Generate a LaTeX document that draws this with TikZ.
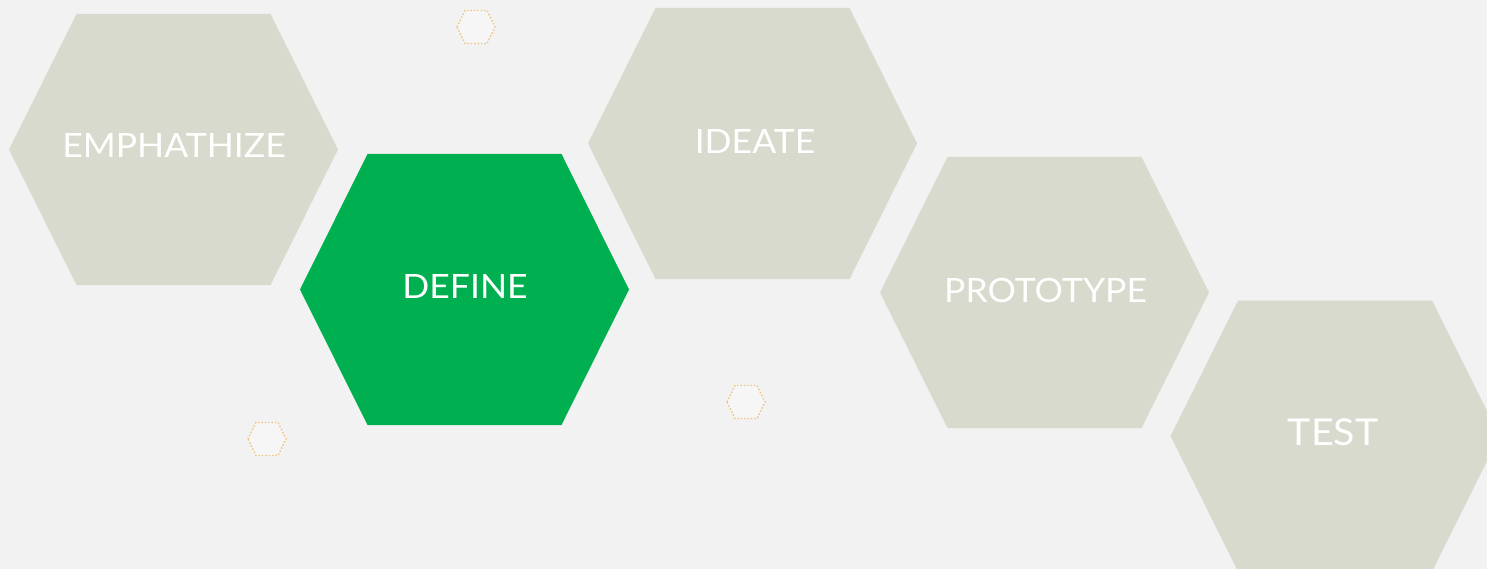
\documentclass[tikz,border=0pt]{standalone}
\usepackage{fontspec}
\setmainfont[FakeStretch=1.06]{Lato}
\definecolor{bgc}{HTML}{F2F2F2}
\definecolor{hexgrey}{HTML}{D8DACD}
\definecolor{hexgreen}{HTML}{00B050}
\definecolor{dotorange}{HTML}{F2C27E}
\newcommand\bighexagon[3]{%
  \fill[#3,shift={(#1,#2)}] (-164.5,0) -- (-97,-135.5) -- (97,-135.5) -- (164.5,0) -- (97,135.5) -- (-97,135.5) -- cycle;}
\newcommand\smallhexagon[2]{%
  \draw[smallhex,shift={(#1,#2)}] (-19,0) -- (-11,-16.5) -- (11,-16.5) -- (19,0) -- (11,16.5) -- (-11,16.5) -- cycle;}
\begin{document}
\begin{tikzpicture}[x=1pt,y=-1pt,
  hexlabel/.style={text=white,inner sep=0pt,font=\fontsize{33.5}{38}\selectfont},
  smallhex/.style={draw=dotorange,line width=1.4pt,dotted,fill=bgc!70!white}]
\useasboundingbox (0,0) rectangle (1487,569);
\fill[bgc] (0,0) rectangle (1487,569);
\begin{scope}
\clip (0,0) rectangle (1487,569);
\bighexagon{173.5}{149.5}{hexgrey}
\bighexagon{464.5}{289.5}{hexgreen}
\bighexagon{752.5}{143.5}{hexgrey}
\bighexagon{1044.5}{292.5}{hexgrey}
\bighexagon{1335}{436}{hexgrey}
\end{scope}
\smallhexagon{476}{27}
\smallhexagon{267}{439}
\smallhexagon{746}{402}
\node[hexlabel] (emph) at (174,145.5) {EMPHATHIZE};
\node[hexlabel] (define) at (465,286) {DEFINE};
\node[hexlabel] (ideate) at (755,141) {IDEATE};
\node[hexlabel] (proto) at (1045.5,290) {PROTOTYPE};
\node[hexlabel,font=\fontsize{37}{42}\selectfont] (test) at (1333,432) {TEST};
\end{tikzpicture}
\end{document}
